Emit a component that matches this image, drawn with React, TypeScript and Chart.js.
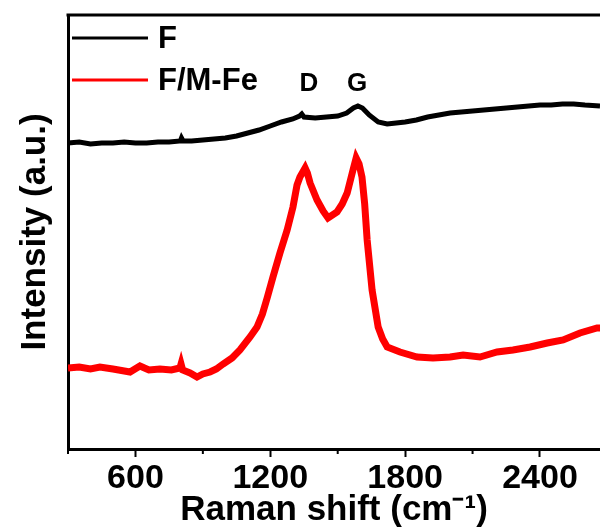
import React, { useEffect, useRef } from "react";
import { Chart, registerables } from "chart.js";

Chart.register(...registerables);

// Raman shift (cm-1) and intensity (a.u.)
const fShift = [300, 350, 400, 450, 500, 550, 600, 650, 700, 750, 800, 805, 812, 850, 900, 950, 1000, 1050, 1100, 1150, 1200, 1250, 1300, 1330, 1340, 1350, 1400, 1450, 1500, 1540, 1570, 1590, 1610, 1640, 1680, 1720, 1760, 1800, 1850, 1900, 1950, 2000, 2050, 2100, 2150, 2200, 2250, 2300, 2350, 2400, 2450, 2500, 2550, 2600, 2667];
const fIntensity = [306, 307, 305, 306, 306, 307, 306, 306, 307, 307, 308, 311, 308, 308, 309, 310, 311, 313, 316, 319, 323, 327, 330, 333, 335, 332, 331, 332, 333, 336, 341, 343, 341, 334, 327, 325, 326, 327, 329, 332, 334, 336, 337, 338, 339, 340, 341, 342, 343, 344, 344, 345, 345, 344, 343];

const fmShift = [300, 350, 400, 442, 500, 576, 620, 660, 709, 760, 798, 803, 810, 843, 874, 900, 932, 960, 990, 1030, 1065, 1110, 1141, 1165, 1186, 1212, 1243, 1275, 1301, 1319, 1332, 1355, 1365, 1377, 1408, 1435, 1457, 1497, 1520, 1542, 1568, 1582, 1595, 1608, 1620, 1631, 1653, 1680, 1700, 1720, 1777, 1853, 1924, 2000, 2058, 2133, 2209, 2280, 2356, 2432, 2503, 2578, 2654, 2667];
const fmIntensity = [81, 82, 80, 82, 80, 77, 83, 79, 80, 79, 81, 85, 79, 76, 72, 75, 77, 80, 85, 91, 99, 112, 122, 135, 151, 172, 196, 219, 242, 264, 272, 281, 276, 266, 249, 238, 231, 237, 245, 256, 279, 291, 285, 272, 245, 209, 159, 122, 110, 102, 97, 92, 91, 92, 94, 92, 97, 99, 102, 106, 109, 116, 121, 121];

const seriesNames = ["F", "F/M-Fe"];
const seriesColors = ["#000000", "#ff0000"];
const majorTicks = [600, 1200, 1800, 2400];
const minorTicks = [300, 900, 1500, 2100];
const peakNames = ["D", "G"];
const peakShift = [1372, 1586];
const peakLabelLevel = 365;

const FONT = "'Liberation Sans', Arial, sans-serif";

const framePlugin = {
  id: "frame",
  afterDraw(chart: any) {
    const { ctx, chartArea, scales } = chart;
    const x = scales.x;
    const y = scales.y;
    ctx.save();
    ctx.strokeStyle = "#000";
    ctx.lineWidth = 3;
    ctx.beginPath();
    ctx.moveTo(chartArea.left - 1.5, chartArea.top);
    ctx.lineTo(chartArea.right, chartArea.top);
    ctx.stroke();
    ctx.lineWidth = 2;
    minorTicks.forEach((v) => {
      const px = x.getPixelForValue(v);
      ctx.beginPath();
      ctx.moveTo(px, chartArea.bottom);
      ctx.lineTo(px, chartArea.bottom + 5);
      ctx.stroke();
    });
    ctx.fillStyle = "#000";
    ctx.font = `bold 26px ${FONT}`;
    ctx.textAlign = "center";
    ctx.textBaseline = "middle";
    peakNames.forEach((n, i) => {
      ctx.fillText(n, x.getPixelForValue(peakShift[i]), y.getPixelForValue(peakLabelLevel));
    });
    // legend
    ctx.font = `bold 31px ${FONT}`;
    ctx.textAlign = "left";
    ctx.lineWidth = 3;
    chart.data.datasets.forEach((ds: any, i: number) => {
      const cy = chartArea.top + 23 + i * 42;
      const x0 = chartArea.left + 4;
      ctx.strokeStyle = ds.borderColor;
      ctx.beginPath();
      ctx.moveTo(x0, cy);
      ctx.lineTo(x0 + 76, cy);
      ctx.stroke();
      ctx.fillStyle = "#000";
      ctx.fillText(ds.label, x0 + 86, cy + 1);
    });
    ctx.restore();
  },
};

export default function App() {
  const ref = useRef<HTMLCanvasElement | null>(null);
  useEffect(() => {
    if (!ref.current) return;
    const chart = new Chart(ref.current, {
      type: "line",
      data: {
        datasets: [
          {
            label: seriesNames[0],
            data: fShift.map((s, i) => ({ x: s, y: fIntensity[i] })),
            borderColor: seriesColors[0],
            backgroundColor: seriesColors[0],
            borderWidth: 5,
            pointRadius: 0,
            tension: 0,
          },
          {
            label: seriesNames[1],
            data: fmShift.map((s, i) => ({ x: s, y: fmIntensity[i] })),
            borderColor: seriesColors[1],
            backgroundColor: seriesColors[1],
            borderWidth: 7,
            pointRadius: 0,
            tension: 0,
          },
        ],
      },
      options: {
        animation: false,
        responsive: false,
        layout: { padding: { top: 15, right: 0, left: 0, bottom: 0 } },
        plugins: {
          tooltip: { enabled: false },
          legend: { display: false },
        },
        scales: {
          x: {
            type: "linear",
            min: 300,
            max: 2667,
            afterFit: (s: any) => {
              s.height = 83;
            },
            afterBuildTicks: (s: any) => {
              s.ticks = majorTicks.map((v) => ({ value: v }));
            },
            ticks: {
              color: "#000",
              padding: 1,
              maxRotation: 0,
              font: { family: FONT, size: 34, weight: "bold" },
              callback: (v: any) => String(v),
            },
            grid: {
              display: true,
              drawOnChartArea: false,
              drawTicks: true,
              tickLength: 8,
              tickWidth: 2,
              tickColor: "#000",
            },
            border: { display: true, color: "#000", width: 3 },
            title: {
              display: true,
              text: "Raman shift (cm⁻¹)",
              color: "#000",
              font: { family: FONT, size: 35, weight: "bold", lineHeight: 0.6 },
              padding: { top: 0, bottom: 11.5 },
            },
          },
          y: {
            type: "linear",
            min: 0,
            max: 434,
            afterFit: (s: any) => {
              s.width = 68;
            },
            ticks: { display: false },
            grid: { display: false, drawTicks: false },
            border: { display: true, color: "#000", width: 3 },
            title: {
              display: true,
              text: "Intensity (a.u.)",
              color: "#000",
              font: { family: FONT, size: 35, weight: "bold", lineHeight: 1.2 },
              padding: { top: 14, bottom: 0 },
            },
          },
        },
      },
      plugins: [framePlugin],
    });
    return () => chart.destroy();
  }, []);
  return (
    <div style={{ position: "fixed", left: 0, top: 0, width: 600, height: 532, background: "#fff" }}>
      <canvas ref={ref} width={600} height={532} />
    </div>
  );
}
